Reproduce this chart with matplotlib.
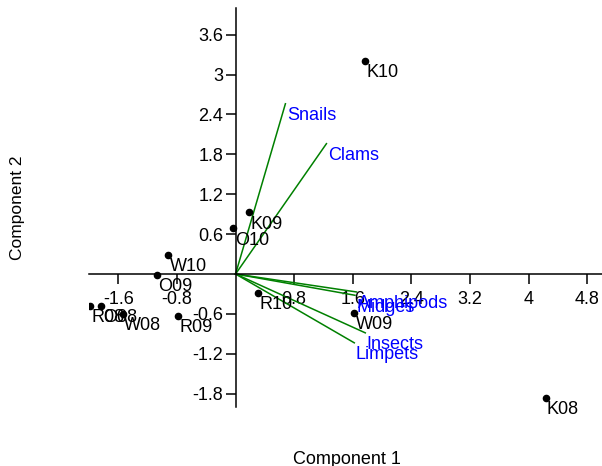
import numpy as np
import matplotlib
matplotlib.use('Agg')
import matplotlib.pyplot as plt

plt.rcParams['font.family'] = ['Liberation Sans', 'DejaVu Sans']
plt.rcParams['axes.unicode_minus'] = False

# sample scores (component 1, component 2)
samples = ['K10', 'K08', 'K09', 'O10', 'W10', 'O09', 'R08', 'O08',
           'W08', 'R09', 'R10', 'W09']
score1 = [1.77, 4.23, 0.19, -0.03, -0.92, -1.07, -1.98, -1.83,
          -1.54, -0.78, 0.31, 1.62]
score2 = [3.21, -1.86, 0.93, 0.69, 0.29, -0.015, -0.48, -0.48,
          -0.60, -0.63, -0.285, -0.585]

# variable loadings (biplot arrows)
taxa = ['Snails', 'Clams', 'Amphipods', 'Midges', 'Insects', 'Limpets']
load1 = [0.68, 1.24, 1.65, 1.63, 1.77, 1.62]
load2 = [2.56, 1.96, -0.27, -0.32, -0.885, -1.035]

xticks = [-1.6, -0.8, 0.8, 1.6, 2.4, 3.2, 4, 4.8]
yticks = [-1.8, -1.2, -0.6, 0.6, 1.2, 1.8, 2.4, 3, 3.6]

fs = 13

fig = plt.figure(figsize=(6.02, 4.66), dpi=100)
ax = fig.add_axes([89 / 602, 59 / 466, 513 / 602, 399 / 466])
ax.set_xlim(-2.0, 5.0)
ax.set_ylim(-2.0, 4.0)

for x, y in zip(load1, load2):
    ax.plot([0, x], [0, y], color='#008000', lw=1.1, zorder=2)
for name, x, y in zip(taxa, load1, load2):
    ax.annotate(name, (x, y), xytext=(1, -2.5), textcoords='offset points',
                ha='left', va='top', color='#0000ff', fontsize=fs, zorder=4)

ax.scatter(score1, score2, s=20, color='black', zorder=3)
for name, x, y in zip(samples, score1, score2):
    ax.annotate(name, (x, y), xytext=(1, -2.5), textcoords='offset points',
                ha='left', va='top', color='black', fontsize=fs, zorder=4)

for side in ['top', 'right']:
    ax.spines[side].set_visible(False)
ax.spines['left'].set_position(('data', 0))
ax.spines['bottom'].set_position(('data', 0))
for side in ['left', 'bottom']:
    ax.spines[side].set_linewidth(1.1)

ax.set_xticks(xticks)
ax.set_xticklabels([f'{t:g}' for t in xticks])
ax.set_yticks(yticks)
ax.set_yticklabels([f'{t:g}' for t in yticks])
ax.tick_params(direction='out', length=7, width=1.1, labelsize=fs)
ax.tick_params(axis='x', pad=5)
ax.tick_params(axis='y', pad=2)

fig.text(347 / 602, 1 - 459 / 466, 'Component 1', ha='center', va='center',
         fontsize=fs)
fig.text(18 / 602, 1 - 208 / 466, 'Component 2', ha='center', va='center',
         rotation=90, fontsize=12.5)

fig.savefig('out.png', dpi=100)
